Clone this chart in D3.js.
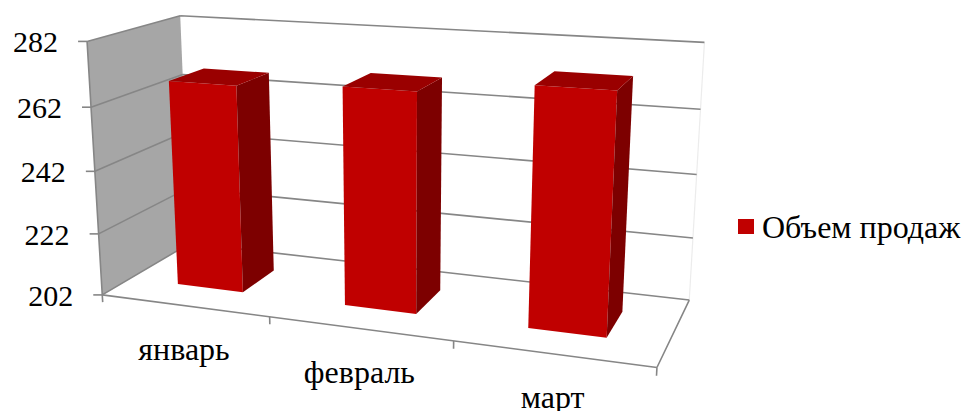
<!DOCTYPE html>
<html>
<head>
<meta charset="utf-8">
<script src="https://cdn.jsdelivr.net/npm/d3@7"></script>
<style>
  body { margin: 0; background: #fff; }
  svg { display: block; }
  text { font-family: "Liberation Serif", "Times New Roman", "DejaVu Serif", serif; fill: #000; }
</style>
</head>
<body>
<div id="chart"></div>
<script>
const months = ["январь", "февраль", "март"];
const sales = [268, 270, 274];
const yTicks = [202, 222, 242, 262, 282];
const seriesName = "Объем продаж";

const width = 962, height = 411;

const svg = d3.select("#chart")
    .append("svg")
    .attr("width", width)
    .attr("height", height);

// world space: x = category position 0..3, y = value 0..1, z = 0 front .. 1 back
const x = d3.scaleBand().domain(months).range([0, 3]).paddingInner(0.6).paddingOuter(0.3);
const y = d3.scaleLinear().domain([202, 282]).range([0, 1]);
const zFront = 0.3, zBack = 0.7;

// where the corners of the chart box land on screen; the perspective is fitted to these
const calib = [
  [0, 1, 0, 87, 41], [0, 0, 0, 102, 295], [0, .75, 0, 91, 107], [0, .5, 0, 95, 172], [0, .25, 0, 99, 233],
  [0, 1, 1, 180, 16], [3, 1, 1, 704, 43], [3, .75, 1, 701, 109], [3, .5, 1, 697, 174],
  [3, .25, 1, 693, 238], [3, 0, 1, 689, 300],
  [3, 0, 0, 657, 367], [1, 0, 0, 270, 317], [2, 0, 0, 453, 342]
];

// least squares fit of a 3x4 projection (last entry fixed to 1)
function fitProjection(pts) {
  const n = 11;
  const M = d3.range(n).map(() => new Array(n).fill(0)), v = new Array(n).fill(0);
  function add(r, rhs) {
    for (let i = 0; i < n; i++) {
      v[i] += r[i] * rhs;
      for (let j = 0; j < n; j++) M[i][j] += r[i] * r[j];
    }
  }
  pts.forEach(([X, Y, Z, u, w]) => {
    u /= 100; w /= 100;
    add([X, Y, Z, 1, 0, 0, 0, 0, -u * X, -u * Y, -u * Z], u);
    add([0, 0, 0, 0, X, Y, Z, 1, -w * X, -w * Y, -w * Z], w);
  });
  for (let i = 0; i < n; i++) M[i].push(v[i]);
  for (let c = 0; c < n; c++) {
    let p = c;
    for (let r = c + 1; r < n; r++) if (Math.abs(M[r][c]) > Math.abs(M[p][c])) p = r;
    [M[c], M[p]] = [M[p], M[c]];
    for (let r = 0; r < n; r++) {
      if (r === c) continue;
      const f = M[r][c] / M[c][c];
      for (let k = c; k <= n; k++) M[r][k] -= f * M[c][k];
    }
  }
  return M.map((row, i) => row[n] / row[i]);
}
const P = fitProjection(calib);

function proj(X, Y, Z) {
  const w = P[8] * X + P[9] * Y + P[10] * Z + 1;
  return [100 * (P[0] * X + P[1] * Y + P[2] * Z + P[3]) / w,
          100 * (P[4] * X + P[5] * Y + P[6] * Z + P[7]) / w];
}
function poly(pts) { return "M" + pts.map(p => proj(...p).join(",")).join("L") + "Z"; }
function seg(a, b) { return "M" + proj(...a).join(",") + "L" + proj(...b).join(","); }

const lineColor = "#868686";
const g = svg.append("g");

// walls
g.append("path")
    .attr("d", seg([3, 0, 1], [3, 1, 1]))
    .attr("stroke", "#ececec").attr("stroke-width", 1.2).attr("fill", "none");
g.append("path")
    .attr("d", poly([[0, 0, 0], [0, 1, 0], [0, 1, 1], [0, 0, 1]]))
    .attr("fill", "#a6a6a6");

// gridlines on side and back wall
yTicks.forEach(t => {
  g.append("path")
      .attr("d", seg([0, y(t), 0], [0, y(t), 1]) + seg([0, y(t), 1], [3, y(t), 1]))
      .attr("stroke", lineColor).attr("stroke-width", 1.6).attr("fill", "none");
});

// floor edges and wall front edge
g.append("path")
    .attr("d", seg([0, 0, 0], [3, 0, 0]) + seg([3, 0, 0], [3, 0, 1]) + seg([0, 0, 0], [0, 1, 0]))
    .attr("stroke", lineColor).attr("stroke-width", 1.6).attr("fill", "none");

// value axis ticks and labels
yTicks.forEach(t => {
  const [px, py] = proj(0, y(t), 0);
  g.append("line")
      .attr("x1", px - 9).attr("x2", px).attr("y1", py).attr("y2", py)
      .attr("stroke", lineColor).attr("stroke-width", 1.6);
  g.append("text")
      .attr("x", px - 29).attr("y", py + 11)
      .attr("text-anchor", "end")
      .style("font-size", "30px")
      .text(t);
});

// category ticks and labels
d3.range(months.length + 1).forEach(i => {
  g.append("path")
      .attr("d", seg([i, 0, 0], [i, -0.03, 0]))
      .attr("stroke", lineColor).attr("stroke-width", 1.6);
});
months.forEach((m, i) => {
  const [px, py] = proj(i + 0.5, 0, 0);
  g.append("text")
      .attr("x", px).attr("y", py + 54)
      .attr("text-anchor", "middle")
      .style("font-size", "32px")
      .text(m);
});

// bars
const bars = g.selectAll(".bar")
    .data(months.map((m, i) => ({m: m, v: sales[i]})))
    .enter().append("g")
    .attr("class", "bar");

bars.append("path")
    .attr("fill", "#c00000")
    .attr("d", d => {
      const x0 = x(d.m), x1 = x0 + x.bandwidth(), h = y(d.v);
      return poly([[x0, 0, zFront], [x1, 0, zFront], [x1, h, zFront], [x0, h, zFront]]);
    });
bars.append("path")
    .attr("fill", "#7d0000")
    .attr("d", d => {
      const x1 = x(d.m) + x.bandwidth(), h = y(d.v);
      return poly([[x1, 0, zFront], [x1, 0, zBack], [x1, h, zBack], [x1, h, zFront]]);
    });
bars.append("path")
    .attr("fill", "#9a0000")
    .attr("d", d => {
      const x0 = x(d.m), x1 = x0 + x.bandwidth(), h = y(d.v);
      return poly([[x0, h, zFront], [x1, h, zFront], [x1, h, zBack], [x0, h, zBack]]);
    });

// legend
const legend = svg.append("g").attr("transform", "translate(738,219)");
legend.append("rect")
    .attr("width", 16).attr("height", 15)
    .attr("fill", "#c00000");
legend.append("text")
    .attr("x", 24).attr("y", 19)
    .style("font-size", "32px")
    .text(seriesName);
</script>
</body>
</html>
